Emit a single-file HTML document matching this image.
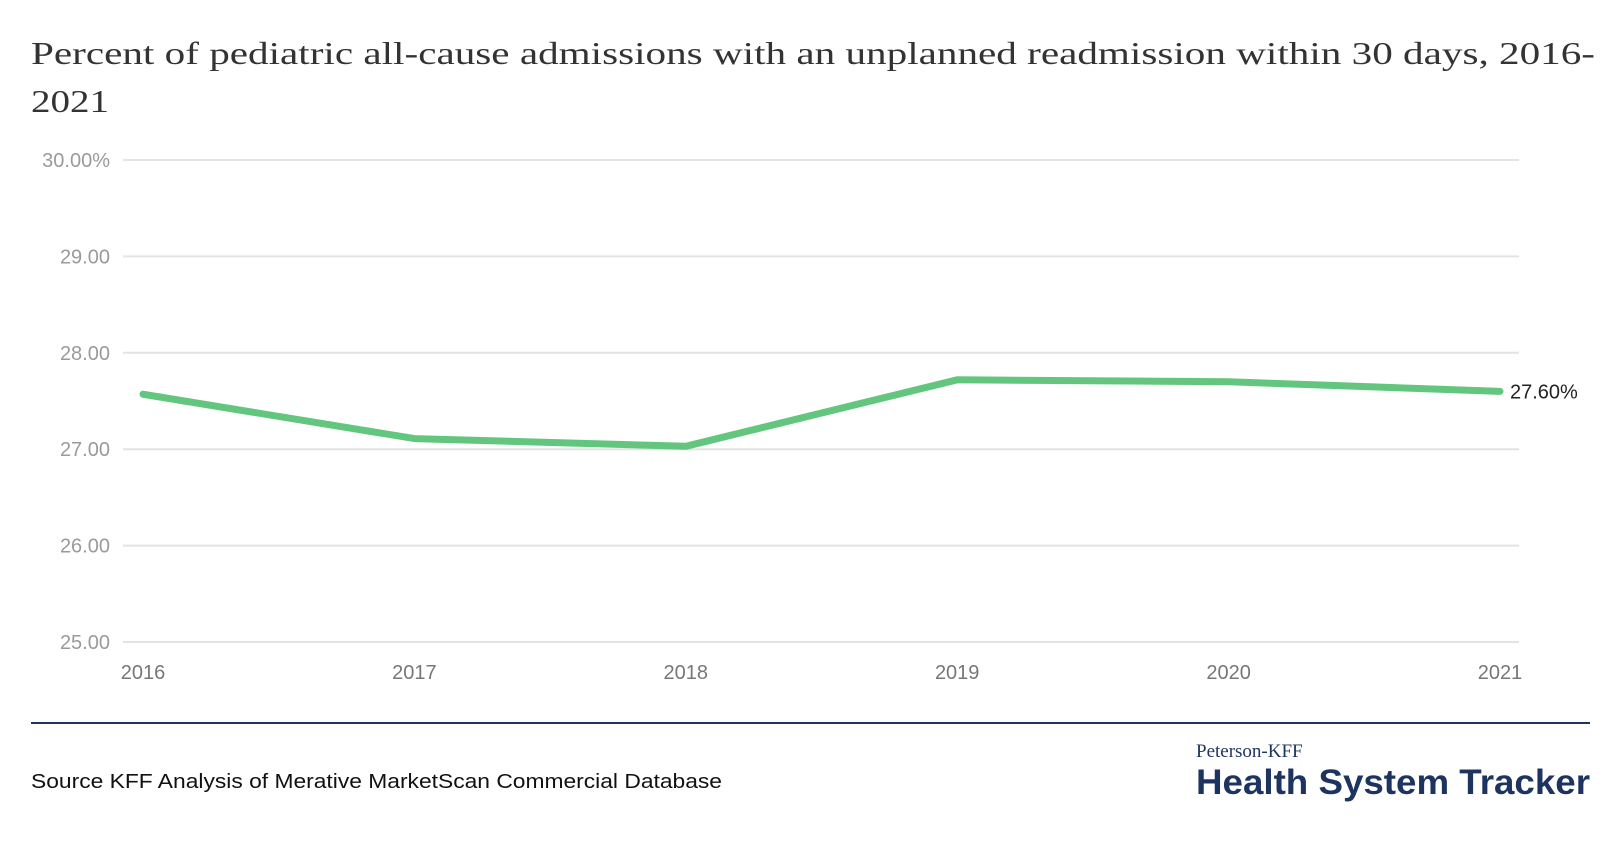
<!DOCTYPE html>
<html><head><meta charset="utf-8"><style>
body{margin:0;background:#fff;width:1620px;height:860px;overflow:hidden}
svg{display:block}
</style></head><body>
<svg width="1620" height="860" xmlns="http://www.w3.org/2000/svg">
<text x="31" y="64" font-family="Liberation Serif, serif" font-size="32" fill="#333" textLength="1564" lengthAdjust="spacingAndGlyphs">Percent of pediatric all-cause admissions with an unplanned readmission within 30 days, 2016-</text>
<text x="31" y="112" font-family="Liberation Serif, serif" font-size="32" fill="#333" textLength="78" lengthAdjust="spacingAndGlyphs">2021</text>
<g id="grid"></g><g id="yt"></g><g id="xt"></g><g id="series"></g>
<line x1="31" y1="723" x2="1590" y2="723" stroke="#1d3461" stroke-width="2"/>
<text x="31" y="788" font-family="Liberation Sans, sans-serif" font-size="20" fill="#111" textLength="691" lengthAdjust="spacingAndGlyphs">Source KFF Analysis of Merative MarketScan Commercial Database</text>
<text x="1196" y="757" font-family="Liberation Serif, serif" font-size="19" fill="#1d3461">Peterson-KFF</text>
<text x="1196" y="794" font-family="Liberation Sans, sans-serif" font-weight="bold" font-size="35" fill="#1d3461" textLength="394" lengthAdjust="spacingAndGlyphs">Health System Tracker</text>
</svg>
<script>
const years=["2016","2017","2018","2019","2020","2021"];
const values=[27.57,27.11,27.03,27.72,27.70,27.60];
const yTicks=[25,26,27,28,29,30];
const yTickLabels=["25.00","26.00","27.00","28.00","29.00","30.00%"];
const NS="http://www.w3.org/2000/svg";
const x0=143,x1=1500,gx0=123,gx1=1519,yTop=160,yBot=642;
const xs=i=>x0+(x1-x0)*i/(years.length-1);
const ys=v=>yBot-(v-25)/(30-25)*(yBot-yTop);
function mk(t,a,p){const e=document.createElementNS(NS,t);for(const k in a)e.setAttribute(k,a[k]);p.appendChild(e);return e;}
const grid=document.getElementById('grid'),yt=document.getElementById('yt'),xt=document.getElementById('xt'),se=document.getElementById('series');
yTicks.forEach((v,i)=>{
 const l=mk('line',{x1:gx0,x2:gx1,y1:ys(v),y2:ys(v),stroke:'#e3e3e3','stroke-width':2},grid);
 
 
 const t=mk('text',{x:110,y:ys(v)+7,'text-anchor':'end','font-family':'Liberation Sans, sans-serif','font-size':20,fill:'#9a9a9a'},yt);
 t.textContent=yTickLabels[i];
 
 
});
years.forEach((y,i)=>{
 const t=mk('text',{x:xs(i),y:679,'text-anchor':'middle','font-family':'Liberation Sans, sans-serif','font-size':20,fill:'#777'},xt);
 t.textContent=y;
 
 
});
const p=mk('polyline',{points:values.map((v,i)=>xs(i)+','+ys(v)).join(' '),fill:'none',stroke:'#63c67e','stroke-width':7,'stroke-linecap':'round','stroke-linejoin':'round'},se);


const last=values.length-1;
const lab=mk('text',{x:xs(last)+10,y:ys(values[last])+7,'font-family':'Liberation Sans, sans-serif','font-size':20,fill:'#222'},se);
lab.textContent=values[last].toFixed(2)+'%';


</script>
</body></html>
